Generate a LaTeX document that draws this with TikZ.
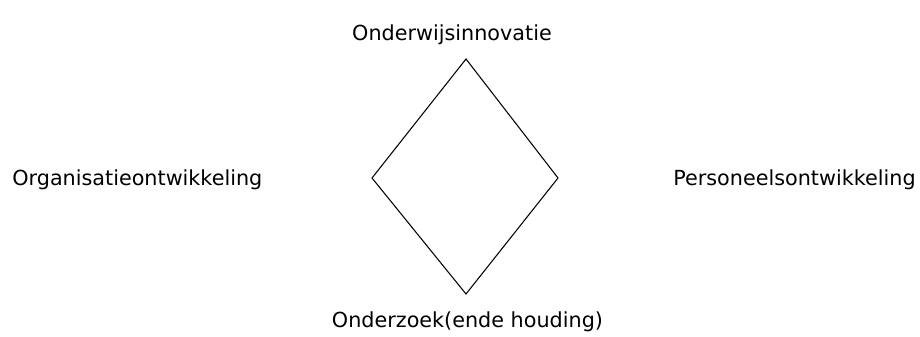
\documentclass[tikz,border=0pt]{standalone}
\usepackage{fontspec}
\setmainfont{DejaVu Sans}
\usepackage{tikz}
\usetikzlibrary{calc}

\begin{document}
\begin{tikzpicture}[x=2cm, y=2cm,
        label text/.style={font=\fontsize{11.8}{14}\selectfont, inner sep=0pt}]
            \useasboundingbox (0,0) rectangle (9.2,-3.36);
            \coordinate (T) at (4.66,-0.59);
            \coordinate (L) at (3.72,-1.78);
            \coordinate (R) at (5.58,-1.78);
            \coordinate (B) at (4.66,-2.94);
            \draw[black, line width=0.6pt] (T) -- (R) -- (B) -- (L) -- cycle;
            \node[label text, anchor=base] (innovatie) at (4.52,-0.40) {Onderwijsinnovatie};
            \node[label text, anchor=base west] (organisatie) at (0.12,-1.85) {Organisatieontwikkeling};
            \node[label text, anchor=base west] (personeel) at (6.73,-1.85) {Personeelsontwikkeling};
            \node[label text, anchor=base] (onderzoek) at (4.675,-3.27) {Onderzoek(ende houding)};
        \end{tikzpicture}
\end{document}
